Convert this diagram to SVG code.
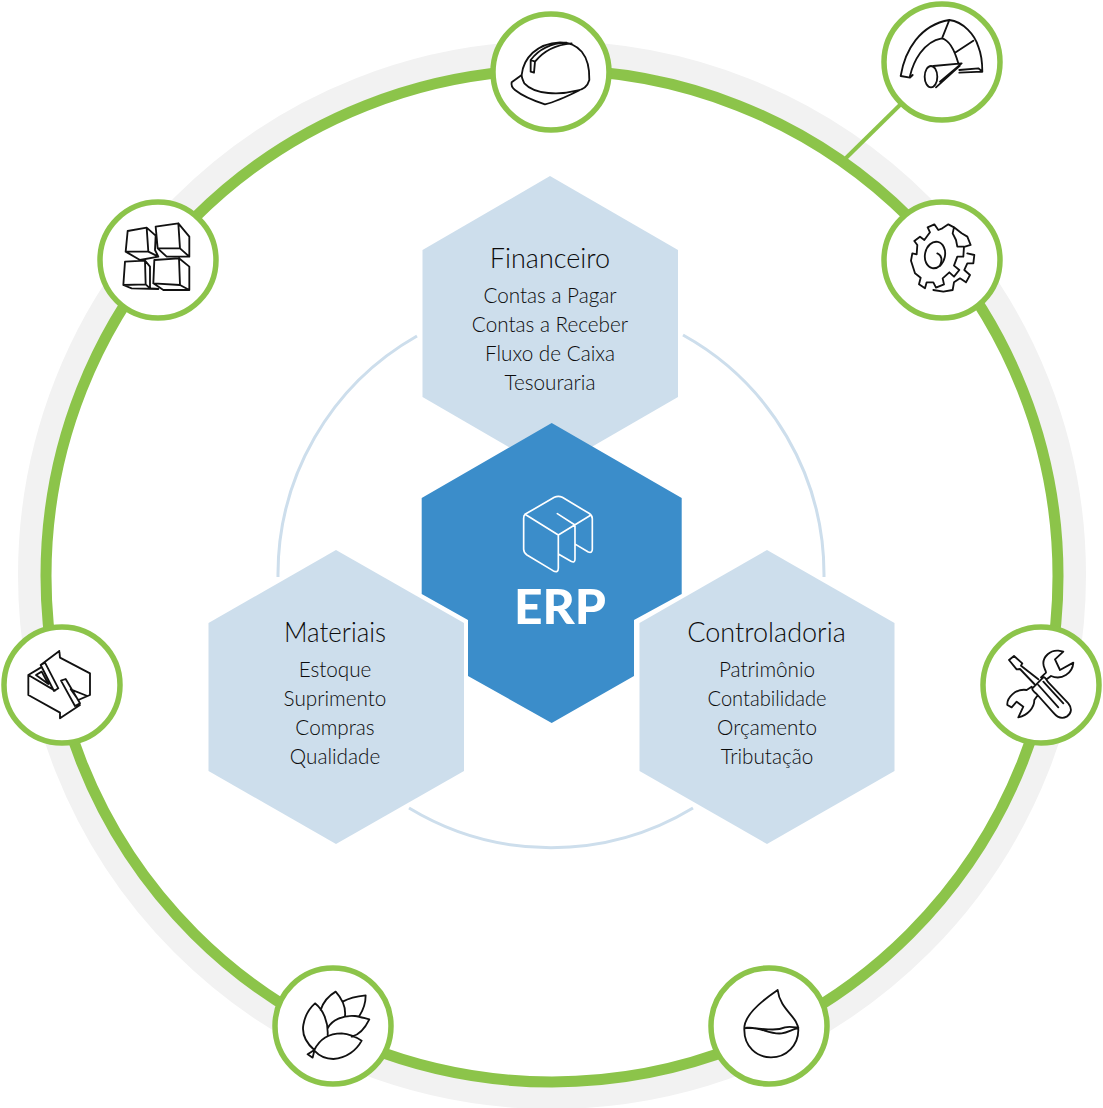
<svg xmlns="http://www.w3.org/2000/svg" width="1103" height="1108" viewBox="0 0 1103 1108">
<style>
.t{font-family:"Lato","Liberation Sans",sans-serif;font-weight:300;fill:#0c0c0c;text-anchor:middle}
.h{font-size:27px}.i{font-size:20.7px}
.lh{fill:#cddeec}
.n{fill:#fff;stroke:#8cc44a;stroke-width:5.5}
.ic{fill:none;stroke:#111;stroke-width:5.5;stroke-linejoin:round;stroke-linecap:round}
</style>
<g id="connectors" fill="none">
<circle cx="552" cy="575" r="522" stroke="#f2f2f2" stroke-width="24"/>
<circle cx="552" cy="576" r="506" stroke="#8cc44a" stroke-width="11"/>
<line x1="846" y1="158" x2="905" y2="100" stroke="#8cc44a" stroke-width="4"/>
<path d="M417 336A274 274 0 0 0 278 577M683 335A274 274 0 0 1 824 577M409 808A274 274 0 0 0 693 808" stroke="#cddeec" stroke-width="3"/>
</g>
<g id="financeiro"><polygon class="lh" points="550,176 678,250 678,397 550,471 422.500,397 422.500,250"/>
<text class="t h" x="550" y="267.500">Financeiro</text><text class="t i" x="550" y="302.500">Contas a Pagar</text><text class="t i" x="550" y="331.500">Contas a Receber</text><text class="t i" x="550" y="360.500">Fluxo de Caixa</text><text class="t i" x="550" y="389.500">Tesouraria</text></g>
<g id="materiais"><polygon class="lh" points="336,550 464,623 464,771 336,844 208.500,771 208.500,623"/>
<text class="t h" x="335" y="641.500" textLength="102" lengthAdjust="spacingAndGlyphs">Materiais</text><text class="t i" x="335" y="676.500">Estoque</text><text class="t i" x="335" y="705.500">Suprimento</text><text class="t i" x="335" y="734.500">Compras</text><text class="t i" x="335" y="763.500">Qualidade</text></g>
<g id="controladoria"><polygon class="lh" points="767,550 894.500,623 894.500,771 767,844 639.500,771 639.500,623"/>
<text class="t h" x="766.500" y="641.500">Controladoria</text><text class="t i" x="767" y="676.500">Patrimônio</text><text class="t i" x="767" y="705.500" textLength="119" lengthAdjust="spacingAndGlyphs">Contabilidade</text><text class="t i" x="767" y="734.500">Orçamento</text><text class="t i" x="767" y="763.500">Tributação</text></g>
<g id="erp"><polygon fill="#3b8dca" points="551.700,423 681.700,498 681.700,594 634,620 634,676 551.700,723 468,676 468,620 421.700,594 421.700,498"/>
<g transform="translate(415 420) scale(.3333)" fill="none" stroke="#fff" stroke-width="5" stroke-linejoin="round" stroke-linecap="round">
<path d="M330 283L418 232Q430 226 442 232L522 280Q532 286 532 296V388Q532 400 520 396L483 374M330 283Q326 286 326 295V388Q326 398 336 405L414 452Q430 460 430 445V345M330 283L430 345L528 285M427 281L480 315V418Q480 430 468 424L430 402"/>
</g>
<text x="560" y="624" font-family="Lato,'Liberation Sans',sans-serif" font-weight="900" font-size="47" fill="#fff" text-anchor="middle" textLength="92" lengthAdjust="spacingAndGlyphs">ERP</text></g>
<g id="node-helmet"><circle class="n" cx="551" cy="72" r="58"/><g class="ic" transform="translate(480 0) scale(.3333)">
<path d="M125 225C130 175 170 130 240 127C295 127 330 165 328 240C322 262 305 270 290 272C240 285 165 285 133 250C128 240 125 232 125 225L95 247C93 255 95 262 105 270C130 290 170 305 195 313C230 305 270 285 300 270M152 180C175 150 205 130 260 128M165 185C185 160 215 135 275 130M152 180L165 185L162 218L152 215Z"/></g></g>
<g id="node-gauge"><circle class="n" cx="942" cy="62" r="58"/><g class="ic" transform="translate(830 0) scale(.3333)">
<path d="M212 228C225 150 270 75 358 60C400 65 435 105 445 140C455 165 457 195 457 215L388 218M240 228C250 185 280 125 335 115C360 120 375 155 385 190M212 228L240 233L248 225M358 60L337 113M430 122L375 158M388 210L445 205L457 215M310 198L395 190L330 245M318 262L390 197"/>
<ellipse cx="303" cy="230" rx="19" ry="32"/></g></g>
<g id="node-gear"><circle class="n" cx="942" cy="260" r="58"/><g class="ic" transform="translate(880 195) scale(.3333)">
<path d="M93 197L97 175L110 178L112 150L103 138L120 125L133 135L150 112L143 97L163 88L175 105L187 100L205 88L222 97L218 115L228 135L232 155L252 155L250 185L232 185L222 212L238 225L222 245L208 232L188 250L192 268L168 278L160 262L140 262L135 280L117 268L122 248L105 235L93 197ZM222 97L245 115L262 125L272 150L255 155M262 175L283 180L280 205L262 205L253 225L270 240L258 262L240 250L222 262L218 285L190 290L160 285"/>
<ellipse cx="165" cy="180" rx="30" ry="40" transform="rotate(12 165 180)"/><path d="M172 175C185 180 188 195 180 212"/></g></g>
<g id="node-tools"><circle class="n" cx="1041" cy="685" r="58"/><g class="ic" transform="translate(975 620) scale(.3333)">
<path d="M102 120L117 108L142 130L138 137L190 178M102 120L125 148L135 147L178 192M172 205L205 172Q210 170 218 185L280 250C292 265 290 280 275 290C260 298 245 290 235 278L185 222Q170 210 172 205ZM190 195L250 262M205 185L265 250M250 92C225 90 205 110 205 130C205 145 213 150 213 158L198 172M250 92L265 95L240 118L255 150L295 128C293 160 260 182 228 168L215 178M170 200L155 210C120 205 95 235 97 255L110 262L125 245L145 260L130 292C160 285 178 262 178 240L188 226"/></g></g>
<g id="node-drop"><circle class="n" cx="769" cy="1026" r="58"/><g class="ic" transform="translate(705 960) scale(.3333)">
<path d="M218 90C160 130 115 170 118 210C118 260 155 292 198 292C245 292 280 255 280 210C280 170 225 150 218 90ZM118 205C160 195 190 225 230 220C250 218 265 205 280 205M125 203C170 205 210 215 240 202C255 198 270 202 280 203"/></g></g>
<g id="node-leaf"><circle class="n" cx="333" cy="1026" r="58"/><g class="ic" transform="translate(270 960) scale(.3333)">
<path d="M133 270C110 250 95 225 100 195C105 165 118 145 135 130C160 150 175 185 173 225M152 150C160 125 180 105 197 95C215 115 228 140 225 168M218 125C240 112 265 108 287 106C287 130 280 150 268 168M173 205C185 180 220 165 255 168C270 170 285 175 298 178C285 205 265 225 245 230M133 270C150 235 180 220 215 220C240 222 260 232 275 242C260 270 230 295 190 297C165 297 145 285 133 272L128 293L113 283L133 270"/></g></g>
<g id="node-boxes"><circle class="n" cx="62" cy="685" r="58"/><g class="ic" transform="translate(0 620) scale(.3333)">
<path d="M85 165V225L180 278V295L240 255M225 258L240 250L197 177L183 182ZM178 93L180 113L270 160V225L235 240M178 93L122 135L135 128L175 205L162 213L122 135M122 143L85 165L165 212M108 165L125 155L145 192ZM212 208L262 228L235 240Z"/></g></g>
<g id="node-cubes"><circle class="n" cx="158" cy="260" r="58"/><g class="ic" transform="translate(95 195) scale(.3333)">
<path d="M98 108L155 98L160 170L92 170ZM155 98L182 122L180 165L190 185L160 170M92 170L135 195L190 185M182 95L250 85L255 160L188 160ZM250 85L283 125L283 185L255 160M188 160L215 185L283 185M90 200L150 197L152 268L85 270ZM150 197L165 215V280L152 268M85 270L110 280L190 282L165 280M178 195L252 190L255 270L175 265ZM252 190L283 215V285L255 270M175 265L205 285L283 285"/></g></g>
</svg>
